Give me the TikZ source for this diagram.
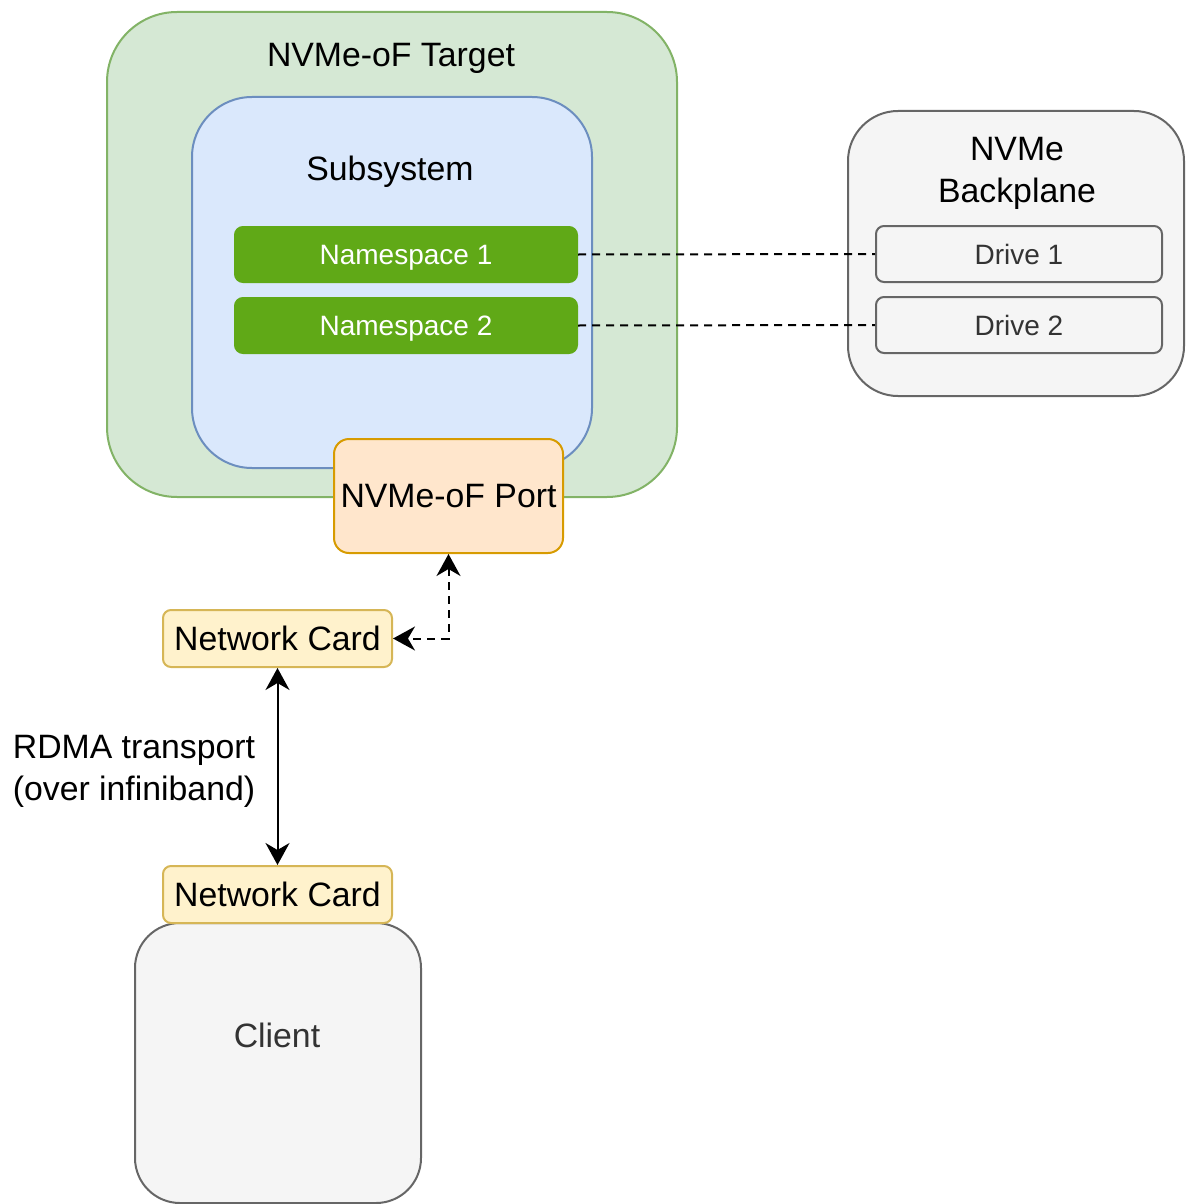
\documentclass[tikz,border=0pt]{standalone}
\usepackage{fontspec}
\setmainfont{Liberation Sans}
\usetikzlibrary{arrows.meta}
\definecolor{tgfill}{HTML}{D5E8D4}
\definecolor{tgline}{HTML}{82B366}
\definecolor{ssfill}{HTML}{DAE8FC}
\definecolor{ssline}{HTML}{6C8EBF}
\definecolor{nsfill}{HTML}{60A917}
\definecolor{gyfill}{HTML}{F5F5F5}
\definecolor{gyline}{HTML}{666666}
\definecolor{gytext}{HTML}{333333}
\definecolor{ptfill}{HTML}{FFE6CC}
\definecolor{ptline}{HTML}{D79B00}
\definecolor{ncfill}{HTML}{FFF2CC}
\definecolor{ncline}{HTML}{D6B656}
\tikzset{
  bigfont/.style={font=\fontsize{33.8}{42}\selectfont},
  smallfont/.style={font=\fontsize{28}{34}\selectfont},
  box/.style={rectangle, draw, line width=2pt, inner sep=0pt, align=center},
  targetbox/.style={box, fill=tgfill, draw=tgline, rounded corners=70pt},
  subbox/.style={box, fill=ssfill, draw=ssline, rounded corners=60pt},
  nsbox/.style={box, smallfont, fill=nsfill, draw=nsfill, text=white, rounded corners=8pt,
    text depth=0pt, minimum width=342pt, minimum height=55pt},
  drivebox/.style={box, smallfont, fill=gyfill, draw=gyline, text=gytext, rounded corners=8pt,
    minimum width=286pt, minimum height=56pt},
  greybox/.style={box, fill=gyfill, draw=gyline},
  portbox/.style={box, bigfont, fill=ptfill, draw=ptline, rounded corners=15pt,
    minimum width=229pt, minimum height=114pt},
  cardbox/.style={box, bigfont, fill=ncfill, draw=ncline, rounded corners=8pt,
    minimum width=229pt, minimum height=57pt},
  link/.style={line width=2pt, dash pattern=on 8pt off 6pt},
  tip/.style={line width=2pt, {Stealth[length=22pt,width=24pt,inset=7pt]}-{Stealth[length=22pt,width=24pt,inset=7pt]}}
}
\begin{document}
\begin{tikzpicture}[x=1pt,y=-1pt]
\useasboundingbox (0,0) rectangle (1186,1204);
\node[targetbox, minimum width=570pt, minimum height=485pt] (target) at (392,254.5) {};
\node[bigfont] (targettitle) at (391,58) {NVMe-oF Target};
\node[subbox, minimum width=400pt, minimum height=371pt] (subsys) at (392,282.5) {};
\node[bigfont] (subtitle) at (390,172) {Subsystem};
\node[nsbox] (ns1) at (406,254.5) {Namespace 1};
\node[nsbox] (ns2) at (406,325.5) {Namespace 2};
\node[greybox, rounded corners=50pt, minimum width=336pt, minimum height=285pt] (backplane) at (1016,253.5) {};
\node[bigfont, align=center] (bptitle) at (1017,173) {NVMe\\Backplane};
\node[drivebox] (drive1) at (1019,254) {Drive 1};
\node[drivebox] (drive2) at (1019,325) {Drive 2};
\node[portbox] (port) at (448.5,496) {NVMe-oF Port};
\node[cardbox] (card1) at (277.5,638.5) {Network Card};
\node[greybox, rounded corners=45pt, minimum width=286pt, minimum height=280pt] (client) at (278,1063) {};
\node[bigfont, text=gytext] (clienttitle) at (277,1035) {Client};
\node[cardbox] (card2) at (277.5,894.5) {Network Card};
\node[bigfont, align=center] (rdma) at (134,771) {RDMA transport\\(over infiniband)};
\draw[link] (ns1.east) -- (drive1.west);
\draw[link] (ns2.east) -- (drive2.west);
\draw[link, tip] (port.south) |- (card1.east);
\draw[tip] (card1.south) -- (card2.north);
\end{tikzpicture}
\end{document}
